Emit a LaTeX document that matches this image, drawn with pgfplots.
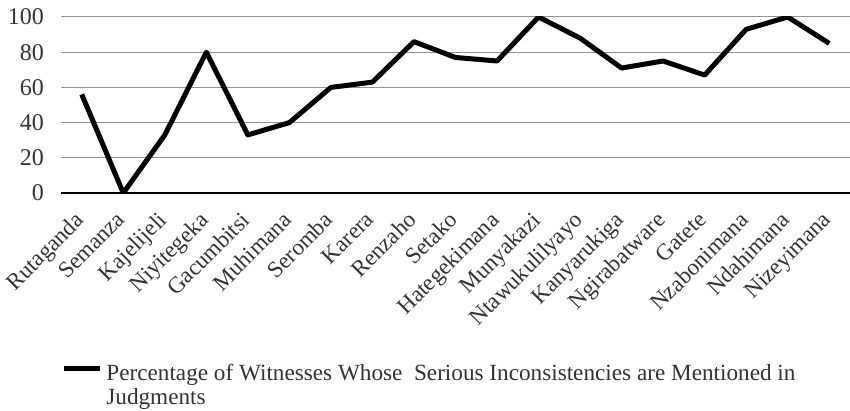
\documentclass[border=0pt]{standalone}
\usepackage{fontspec}
\setmainfont{Liberation Serif}
\usepackage{pgfplots}
\pgfplotsset{compat=1.18}
\usepackage{pgfplotstable}

% share of witnesses with serious inconsistencies mentioned in judgments
\pgfplotstableread{
x  y
0  56
1  0
2  33
3  80
4  33
5  40
6  60
7  63
8  86
9  77
10 75
11 100
12 88
13 71
14 75
15 67
16 93
17 100
18 85
}\witnesses

\begin{document}
\begin{tikzpicture}
\useasboundingbox (-30.5pt,-109pt) rectangle (394.5pt,96.5pt);
\begin{axis}[
    at={(0,0)}, anchor=south west,
    scale only axis,
    width=394.5pt, height=88pt,
    xmin=-0.5, xmax=18.5,
    ymin=0, ymax=100,
    ytick={0,20,...,100},
    xtick=data,
    xticklabels={Rutaganda,Semanza,Kajelijeli,Niyitegeka,Gacumbitsi,Muhimana,Seromba,Karera,Renzaho,Setako,Hategekimana,Munyakazi,Ntawukulilyayo,Kanyarukiga,Ngirabatware,Gatete,Nzabonimana,Ndahimana,Nizeyimana},
    axis x line*=bottom,
    axis y line*=left,
    y axis line style={draw=none},
    x axis line style={black, line width=0.6pt, -},
    major tick length=0pt,
    ymajorgrids,
    grid style={gray!85, line width=0.5pt},
    tick label style={font=\fontsize{11.5}{12}\selectfont, text=black!80},
    yticklabel style={font=\fontsize{12}{12}\selectfont, xshift=-5pt},
    /pgf/number format/assume math mode=true,
    xticklabel style={xshift=-4pt, yshift=-7pt, rotate=45, anchor=north east, inner sep=1pt},
    legend style={at={(axis description cs:0,0)}, anchor=north west,
        yshift=-83.5pt, draw=none, fill=none, inner sep=0pt,
        font=\fontsize{11.6}{12}\selectfont, text=black!80,
        /tikz/every even column/.append style={column sep=0pt}},
    legend cell align=left,
    legend image code/.code={\draw[line width=2.5pt, black] (0pt,0.3em) -- (18pt,0.3em);},
]
\addplot[black, line width=2.5pt, line join=round, no markers] table[x=x, y=y] {\witnesses};
\addlegendentry{\parbox[t]{352pt}{\raggedright Percentage of Witnesses Whose\ \ Serious Inconsistencies are Mentioned in Judgments}}
\end{axis}
\end{tikzpicture}
\end{document}
